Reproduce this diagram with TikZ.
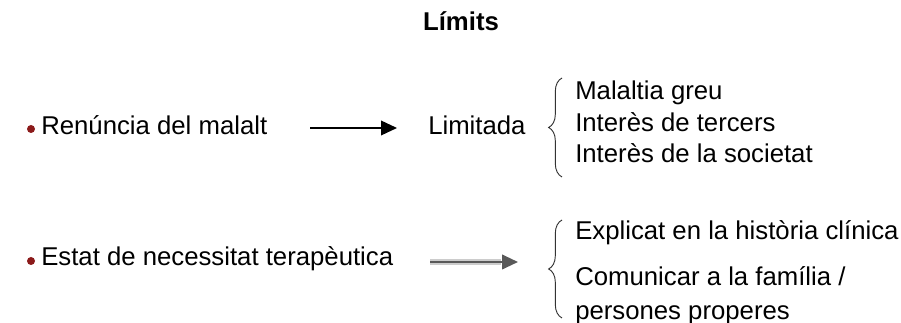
\documentclass[tikz,border=0pt]{standalone}
\usepackage{fontspec}
\setmainfont{Liberation Sans}
\usetikzlibrary{arrows.meta,decorations.pathreplacing}

\definecolor{vermellfosc}{HTML}{8B1A1A}

\tikzset{
  texte/.style={anchor=base west, inner sep=0pt},
  punt/.style={circle, fill=vermellfosc, inner sep=0pt, minimum size=6pt},
  fletxa/.style={-{Triangle[length=12pt,width=11pt]}, line width=1.1pt},
  clau/.style={decorate, decoration={brace, amplitude=10pt}, line width=0.7pt, black!80}
}

\begin{document}
\begin{tikzpicture}[x=0.75pt,y=-0.75pt,font=\fontsize{19.3}{23}\selectfont]
    \useasboundingbox (0,0) rectangle (901,323);

    % Títol
    \node[anchor=base, inner sep=0pt] (titol) at (461,31) {\textbf{Límits}};

    % Renúncia del malalt
    \node[punt] (p1) at (31,129) {};
    \node[texte] (renuncia) at (41,135) {Renúncia del malalt};
    \coordinate (a1s) at (310,128);
    \coordinate (a1e) at (397,128);
    \draw[fletxa] (a1s) -- (a1e);
    \node[texte] (limitada) at (428,135) {Limitada};

    % Clau i llista
    \coordinate (c1dalt) at (562,78);
    \coordinate (c1baix) at (562,177);
    \draw[clau] (c1baix) -- (c1dalt);
    \node[texte] (greu) at (575,100) {Malaltia greu};
    \node[texte] (tercers) at (575,132) {Interès de tercers};
    \node[texte] (societat) at (575,163) {Interès de la societat};

    % Estat de necessitat terapèutica
    \node[punt] (p2) at (31,261) {};
    \node[texte] (estat) at (41,266) {Estat de necessitat terapèutica};
    \coordinate (a2s) at (430,262);
    \coordinate (a2e) at (518,262);
    \draw[line width=4pt, gray!40, shorten >=13pt] (a2s) -- (a2e);
    \draw[fletxa, line width=1.5pt, gray!70!black] (a2s) -- (a2e);

    % Clau i llista
    \coordinate (c2dalt) at (562,220);
    \coordinate (c2baix) at (562,318);
    \draw[clau] (c2baix) -- (c2dalt);
    \node[texte] (historia) at (575,240) {Explicat en la història clínica};
    \node[texte] (familia) at (575,286) {Comunicar a la família /};
    \node[texte] (properes) at (575,320) {persones properes};
\end{tikzpicture}
\end{document}
